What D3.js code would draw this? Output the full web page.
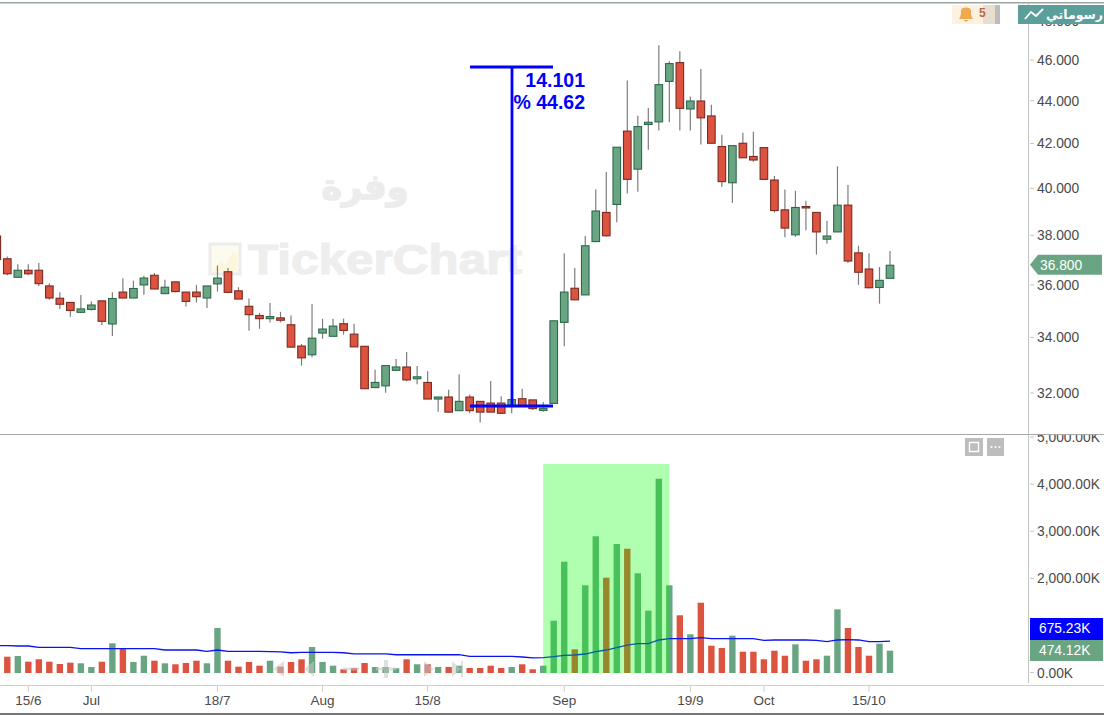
<!DOCTYPE html>
<html><head><meta charset="utf-8">
<style>html,body{margin:0;padding:0;background:#fff;overflow:hidden}svg{display:block}text{font-family:"Liberation Sans",Arial,sans-serif}</style>
<script src="https://cdn.jsdelivr.net/npm/d3@7"></script></head><body>
<svg id="c" width="1104" height="715"></svg>
<script>
const startIndex=-1;
const opens=[37.97,37.04,36.30,36.58,36.58,35.96,35.48,35.32,34.94,35.05,35.38,34.50,35.72,35.49,36.00,36.38,35.66,36.12,35.72,35.72,35.49,36.04,36.52,35.77,35.17,34.82,34.70,34.73,34.47,33.68,33.36,34.16,34.04,34.51,34.12,33.67,32.19,32.25,32.80,32.92,32.50,32.37,31.79,31.86,31.39,31.86,31.71,31.65,31.65,31.57,31.80,31.76,31.40,31.64,34.56,35.87,35.61,37.74,38.96,39.30,42.57,40.84,42.88,43.00,44.94,45.87,43.61,43.99,43.28,41.86,40.24,42.01,41.41,41.81,40.36,39.07,38.02,39.21,38.96,37.84,38.14,39.27,37.28,36.63,35.90,36.26];
const closes=[37.01,36.44,36.58,36.44,36.05,35.49,35.25,35.01,35.07,35.22,34.60,35.47,35.49,35.86,36.27,35.84,35.91,35.74,35.36,35.54,35.96,36.27,35.71,35.45,34.85,34.70,34.78,34.64,33.64,33.25,33.97,34.31,34.42,34.26,33.65,32.15,32.37,32.97,32.92,32.46,32.57,31.79,31.86,31.34,31.71,31.39,31.34,31.34,31.30,31.77,31.55,31.46,31.47,34.62,35.72,35.42,37.57,39.02,37.98,41.83,40.39,42.78,42.98,44.78,45.82,43.64,43.99,43.19,42.01,40.29,41.90,41.35,41.25,40.39,39.04,38.30,39.17,39.15,38.14,37.97,39.27,36.95,36.50,35.89,36.18,36.78];
const highs=[38.10,37.13,36.82,36.82,36.87,36.07,35.71,35.32,35.61,35.36,35.38,35.71,36.26,36.16,36.36,36.47,36.20,36.12,35.72,36.00,35.96,36.77,36.67,35.91,35.47,34.92,35.30,34.96,34.82,33.76,35.26,34.70,34.70,34.70,34.51,33.67,32.82,32.97,33.21,33.46,32.96,32.77,31.86,32.11,32.66,31.95,31.71,32.42,31.89,32.11,32.15,31.76,31.69,34.62,37.26,36.67,37.97,39.95,40.71,41.83,44.98,43.29,43.66,46.75,45.94,46.44,44.21,45.55,43.81,42.40,41.90,42.49,42.54,41.81,40.54,39.95,39.89,39.46,38.96,38.61,40.97,40.14,37.57,37.26,36.71,37.36];
const lows=[37.00,36.38,36.30,36.38,35.96,35.42,35.07,34.77,34.92,35.01,34.46,34.05,35.49,35.49,35.62,35.84,35.66,35.71,35.16,35.32,35.11,35.74,35.67,35.45,34.25,34.32,34.56,34.56,33.64,32.97,33.27,33.95,34.04,34.10,33.65,32.15,32.19,32.01,32.80,32.41,32.31,31.79,31.35,31.32,31.39,31.30,30.99,31.34,31.30,31.30,31.55,31.41,31.35,31.64,33.67,35.42,35.61,37.74,37.94,38.55,39.77,39.85,41.71,42.60,42.98,42.60,42.60,41.95,42.01,40.05,39.36,41.35,41.17,40.39,38.96,37.92,37.94,38.21,37.21,37.65,38.14,36.87,36.00,35.86,35.27,36.26];
const volumes=[594,346,361,240,291,240,191,219,206,127,240,631,524,234,367,261,206,185,212,261,206,955,261,134,234,155,261,134,234,291,552,234,155,79,106,212,127,127,100,291,185,185,127,127,155,106,106,155,106,127,185,79,155,1110,2363,503,1862,2902,2023,2739,2639,2117,1323,4125,1862,1225,822,1492,580,531,792,452,452,291,473,367,609,261,291,367,1352,955,552,367,622,474];
const volumeMA=[580,580,573,573,546,546,546,546,516,516,516,516,516,516,516,516,488,488,488,488,461,488,461,461,461,461,455,450,430,440,440,440,440,430,404,404,408,408,388,388,388,388,388,388,388,355,355,355,355,355,340,320,325,346,376,382,403,452,488,537,594,622,622,701,729,729,729,750,729,729,729,729,729,694,701,701,701,701,694,665,701,707,701,665,665,675.23];
const priceTicks=[48,46,44,42,40,38,36,34,32];
const volumeTicks=[5000,4000,3000,2000,0];
const dateLabels=["15/6","Jul","18/7","Aug","15/8","Sep","19/9","Oct","15/10"];
const dateIndex=[2,8,20,30,40,53,65,72,82];
const lastPrice=36.8,lastVolume=474.12,lastMA=675.23;
const measureLow=31.55,measureHigh=45.651,measureText=["14.101","% 44.62"];
const highlight={from:51,to:63,top:4437};

const idx=d3.range(opens.length);
const svg=d3.select("#c");
const x=d3.scaleLinear().domain([0,84]).range([7.3,890]);
const y=d3.scaleLog().domain([46,32]).range([60,393]);
const v=d3.scaleLinear().domain([0,5000]).range([673,437.5]);
const GREEN="#6aa583",GREEND="#2c6a4a",RED="#dc5340",REDD="#7c2a20",AX="#4a4a4a";
const defs=svg.append("defs");
defs.append("clipPath").attr("id","pp").append("rect").attr("x",0).attr("y",4).attr("width",1028).attr("height",430);
defs.append("clipPath").attr("id","vp").append("rect").attr("x",0).attr("y",435).attr("width",1104).attr("height",250);
defs.append("filter").attr("id","soft").attr("x","-5%").attr("y","-5%").attr("width","110%").attr("height","110%").append("feGaussianBlur").attr("stdDeviation",0.35);

// frame
svg.append("rect").attr("x",0).attr("y",2).attr("width",1104).attr("height",1.5).attr("fill","#9aa5a0");
svg.append("rect").attr("x",0).attr("y",713).attr("width",1104).attr("height",2).attr("fill","#777");

// watermark
const wm=svg.append("g");
wm.append("rect").attr("x",210).attr("y",244).attr("width",30).attr("height",30).attr("fill","#fdfaf0").attr("stroke","#ececec").attr("stroke-width",3);
wm.append("path").attr("d","M213 271 L220 261 L226 264 L233 251 L237 255 L237 271 Z").attr("fill","#fdf5dc");
wm.append("text").attr("x",248).attr("y",274).attr("font-size",43).attr("font-weight",700).attr("fill","#eeeeee").attr("stroke","#eeeeee").attr("stroke-width",1.2).attr("textLength",274).attr("lengthAdjust","spacingAndGlyphs").text("TickerChart");
wm.append("text").attr("x",365).attr("y",199).attr("text-anchor","middle").attr("font-size",35).attr("font-weight",700).attr("fill","#ececec").attr("stroke","#ececec").attr("stroke-width",1.5).style("font-family","'DejaVu Sans'").text("وفرة");

// price pane
const pp=svg.append("g").attr("clip-path","url(#pp)").append("g").attr("filter","url(#soft)");
pp.selectAll("line.w").data(idx).join("line").attr("class","w")
 .attr("x1",i=>x(i+startIndex)).attr("x2",i=>x(i+startIndex))
 .attr("y1",i=>y(highs[i])).attr("y2",i=>y(lows[i])).attr("stroke","#7d7d7d").attr("stroke-width",1.2);
pp.selectAll("rect.b").data(idx).join("rect").attr("class","b")
 .attr("x",i=>x(i+startIndex)-3.8).attr("width",7.6)
 .attr("y",i=>y(Math.max(opens[i],closes[i])))
 .attr("height",i=>Math.max(1,Math.abs(y(opens[i])-y(closes[i]))))
 .attr("fill",i=>closes[i]>=opens[i]?GREEN:RED)
 .attr("stroke",i=>closes[i]>=opens[i]?GREEND:REDD).attr("stroke-width",1.1);

// measure tool
const mx=512;
const m=svg.append("g").attr("stroke","#0000ff").attr("stroke-width",2.8);
m.append("line").attr("x1",mx).attr("x2",mx).attr("y1",y(measureHigh)).attr("y2",y(measureLow));
m.append("line").attr("x1",470).attr("x2",553).attr("y1",y(measureHigh)).attr("y2",y(measureHigh));
m.append("line").attr("x1",470).attr("x2",553).attr("y1",y(measureLow)).attr("y2",y(measureLow));
svg.selectAll("text.m").data(measureText).join("text").attr("class","m").attr("x",585).attr("y",(d,i)=>87+i*21.5)
 .attr("text-anchor","end").attr("font-size",19.5).attr("font-weight",700).attr("fill","#0000ff").text(d=>d);

// volume pane
const vp=svg.append("g").attr("clip-path","url(#vp)");
const vb=vp.append("g").attr("filter","url(#soft)");
vb.selectAll("rect").data(idx).join("rect")
 .attr("x",i=>x(i+startIndex)-3.2).attr("width",6.4)
 .attr("y",i=>v(volumes[i])).attr("height",i=>v(0)-v(volumes[i]))
 .attr("fill",i=>closes[i]>=opens[i]?GREEN:RED);
// nav glyphs
const nav=vp.append("g").attr("fill","#c8c8c8").attr("opacity",.55);
nav.append("path").attr("d","M273 669 L284 661 L284 677 Z");
nav.append("path").attr("d","M304 669 L314 661 L314 677 Z");
nav.append("rect").attr("x",343).attr("y",667.5).attr("width",16).attr("height",3);
nav.append("path").attr("d","M376 667.5H384V660H388V667.5H396V670.5H388V678H384V670.5H376Z");
nav.append("path").attr("d","M424 661 L434 669 L424 677 Z");
nav.append("path").attr("d","M452 661 L461 669 L452 677 Z M461 661H463V677H461Z");
vp.append("path").datum(idx).attr("fill","none").attr("stroke","#0a14ee").attr("stroke-width",1.3)
 .attr("d",d3.line().x(i=>x(i+startIndex)).y(i=>v(volumeMA[i])));
vp.append("rect").attr("x",x(highlight.from)).attr("width",x(highlight.to)-x(highlight.from))
 .attr("y",v(highlight.top)).attr("height",v(0)-v(highlight.top)).attr("fill","#00ff00").attr("opacity",.31);
vp.append("rect").attr("x",965).attr("y",438).attr("width",18).attr("height",18).attr("fill","#bdbdbd");
vp.append("rect").attr("x",969.5).attr("y",442.5).attr("width",9).attr("height",9).attr("fill","none").attr("stroke","#fff").attr("stroke-width",1.4);
vp.append("rect").attr("x",987).attr("y",438).attr("width",17).attr("height",18).attr("fill","#bdbdbd");
[991.5,995.5,999.5].forEach(c=>vp.append("circle").attr("cx",c).attr("cy",447).attr("r",1).attr("fill","#fff"));

// axes lines
svg.append("line").attr("x1",1028.5).attr("x2",1028.5).attr("y1",4).attr("y2",683).attr("stroke","#c4c4c4");
svg.append("line").attr("x1",0).attr("x2",1104).attr("y1",434.5).attr("y2",434.5).attr("stroke","#a8a8a8");
svg.append("line").attr("x1",0).attr("x2",1104).attr("y1",685.5).attr("y2",685.5).attr("stroke","#cfcfcf");

// price axis
const pa=svg.append("g").attr("clip-path","url(#pp2)");
defs.append("clipPath").attr("id","pp2").append("rect").attr("x",1000).attr("y",4).attr("width",104).attr("height",430);
const pt=pa.selectAll("g").data(priceTicks).join("g").attr("transform",d=>`translate(0,${y(d)})`);
pt.append("line").attr("x1",1030).attr("x2",1034).attr("stroke","#c4c4c4");
pt.append("text").attr("x",1037).attr("y",5).attr("font-size",13.8).attr("fill",AX).text(d=>d3.format(".3f")(d));

// volume axis
const vaG=svg.append("g").attr("clip-path","url(#vp)");
const vt=vaG.selectAll("g").data(volumeTicks).join("g").attr("transform",d=>`translate(0,${v(d)-0.5})`);
vt.append("line").attr("x1",1030).attr("x2",1034).attr("stroke","#c4c4c4");
vt.append("text").attr("x",1037).attr("y",5).attr("font-size",13.8).attr("fill",AX).text(d=>d3.format(",.2f")(d)+"K");

// time axis
const ta=svg.append("g").selectAll("g").data(dateLabels).join("g").attr("transform",(d,i)=>`translate(${x(dateIndex[i])},0)`);
ta.append("line").attr("y1",686).attr("y2",692).attr("stroke","#cfcfcf");
ta.append("text").attr("y",705).attr("text-anchor","middle").attr("font-size",13.5).attr("fill",AX).text(d=>d);

// value badges
const py=y(lastPrice);
svg.append("path").attr("d",`M1030 ${py} L1038 ${py-10} H1102 V${py+10} H1038 Z`).attr("fill",GREEN);
svg.append("text").attr("x",1040).attr("y",py+5).attr("font-size",13.8).attr("fill","#fff").text(d3.format(".3f")(lastPrice));
svg.append("rect").attr("x",1030).attr("y",618).attr("width",73).attr("height",22).attr("fill","#0000ff");
svg.append("rect").attr("x",1030).attr("y",640).attr("width",73).attr("height",21).attr("fill",GREEN);
svg.append("text").attr("x",1039).attr("y",633).attr("font-size",13.8).attr("fill","#fff").text(d3.format(".2f")(lastMA)+"K");
svg.append("text").attr("x",1039).attr("y",655).attr("font-size",13.8).attr("fill","#fff").text(d3.format(".2f")(lastVolume)+"K");

// header
svg.append("rect").attr("x",952).attr("y",5).attr("width",31).attr("height",19).attr("fill","#fdf2e0");
svg.append("rect").attr("x",983).attr("y",5).attr("width",12).attr("height",19).attr("fill","#e8dfcf");
svg.append("rect").attr("x",995).attr("y",5).attr("width",5).attr("height",19).attr("fill","#bdbdbd");
svg.append("path").attr("d","M959 19 C961 16 961 14 961 11 C961 8.5 963 7.5 966 7.5 C969 7.5 971 8.5 971 11 C971 14 971 16 973 19 Z M963.5 20 H968.5 L966 22 Z").attr("fill","#f0a94e");
svg.append("text").attr("x",979).attr("y",17).attr("font-size",12).attr("font-weight",700).attr("fill","#b5694a").text("5");
svg.append("rect").attr("x",1018).attr("y",5).attr("width",86).attr("height",19).attr("fill","#5b9e9a");
svg.append("path").attr("d","M1025 19 L1031 12 L1036 16 L1043 9").attr("fill","none").attr("stroke","#fff").attr("stroke-width",1.8);
svg.append("text").attr("x",1103).attr("y",19).attr("text-anchor","end").attr("font-size",12.5).attr("font-weight",700).attr("fill","#fff").style("font-family","'DejaVu Sans'").text("رسوماتي");
</script></body></html>
